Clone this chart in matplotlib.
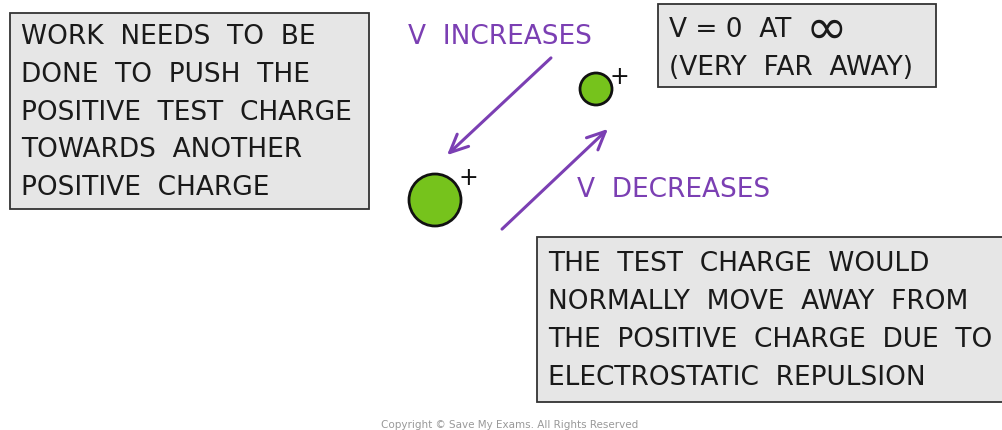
import matplotlib.pyplot as plt
import matplotlib.patches as patches

# diagram content (double spaces mimic the wide word gaps of the original lettering)
left_lines = ["WORK  NEEDS  TO  BE", "DONE  TO  PUSH  THE", "POSITIVE  TEST  CHARGE",
              "TOWARDS  ANOTHER", "POSITIVE  CHARGE"]
inf_lines = ["V = 0  AT", "(VERY  FAR  AWAY)"]
inf_sym = "\u221e"
right_lines = ["THE  TEST  CHARGE  WOULD", "NORMALLY  MOVE  AWAY  FROM",
               "THE  POSITIVE  CHARGE  DUE  TO", "ELECTROSTATIC  REPULSION"]
label_up = "V  INCREASES"
label_down = "V  DECREASES"
copyright = "Copyright \u00a9 Save My Exams. All Rights Reserved"

# charges: (x, y, radius) in pixels
charges = [(435, 201, 26), (596, 90, 16)]

W, H = 1003, 431
fig = plt.figure(figsize=(W / 100, H / 100), dpi=100)
ax = fig.add_axes([0, 0, 1, 1])
ax.set_xlim(0, W)
ax.set_ylim(H, 0)
ax.axis('off')

purple = '#7b3fb3'
green = '#76c31c'
boxfill = '#e6e6e6'
ink = '#1a1a1a'
fs = 19


def box(x0, y0, x1, y1, lines, tx, ty, dy):
    ax.add_patch(patches.Rectangle((x0, y0), x1 - x0, y1 - y0, facecolor=boxfill,
                                   edgecolor='#333333', lw=1.3))
    for i, s in enumerate(lines):
        ax.text(tx, ty + i * dy, s, fontsize=fs, color=ink, va='center', ha='left')


box(10, 14, 369, 210, left_lines, 21, 37, 37.8)
box(658, 5, 936, 88, inf_lines, 669, 30, 38)
box(537, 238, 1010, 403, right_lines, 548, 264, 38)
ax.text(806, 30, inf_sym, fontsize=36, color=ink, va='center', ha='left')

ax.text(408, 37, label_up, fontsize=fs, color=purple, va='center', ha='left')
ax.text(577, 190, label_down, fontsize=fs, color=purple, va='center', ha='left')

ax.annotate('', xy=(445, 158), xytext=(553, 57),
            arrowprops=dict(arrowstyle='->,head_length=1.3,head_width=0.6', color=purple, lw=2.2))
ax.annotate('', xy=(610, 128), xytext=(500, 232),
            arrowprops=dict(arrowstyle='->,head_length=1.3,head_width=0.6', color=purple, lw=2.2))

for cx, cy, r in charges:
    ax.add_patch(patches.Circle((cx, cy), r, facecolor=green, edgecolor='#111111', lw=2))
    ax.text(cx + r + 7, cy - r + 3, '+', fontsize=17, color='#111111', ha='center', va='center')

ax.text(510, 425, copyright, fontsize=7.5, color='#999999', ha='center', va='center')

fig.savefig('out.png', dpi=100)
